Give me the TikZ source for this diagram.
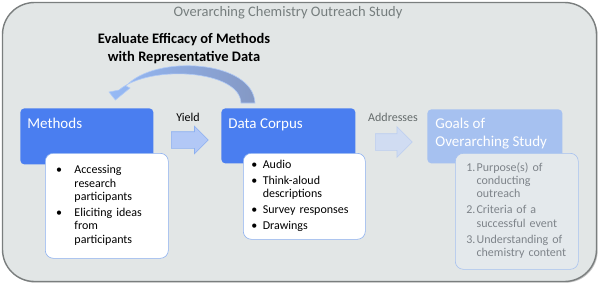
\documentclass[tikz,border=0pt]{standalone}
\usepackage{fontspec}
\setmainfont{Carlito}
\usetikzlibrary{shapes.arrows,shadows}

\begin{document}
\begin{tikzpicture}[x=1pt,y=-1pt,line width=0.75pt,
  studybox/.style={draw=studyline,fill=studybg,line width=1.4pt,rounded corners=32pt,inner sep=0pt,
    drop shadow={shadow xshift=1.2pt,shadow yshift=-1.2pt,opacity=0.45}},
  headbox/.style={fill=#1,rounded corners=4pt,anchor=north west,inner sep=0pt},
  headtext/.style={text=white,font=\fontsize{15}{17.5}\selectfont,inner sep=0pt,align=left,anchor=base west},
  listbox/.style={fill=#1,draw=listline,line width=0.6pt,rounded corners=8pt,anchor=north west,
    inner xsep=0pt,align=left,font=\fontsize{12}{13.3}\selectfont},
  blockarrow/.style={single arrow,anchor=tail,inner xsep=0pt,minimum height=37pt,line width=0.6pt}]
  \definecolor{studybg}{RGB}{226,230,230}
  \definecolor{studyline}{RGB}{122,126,126}
  \definecolor{titlegray}{RGB}{118,126,126}
  \definecolor{methodblue}{RGB}{74,126,240}
  \definecolor{goalblue}{RGB}{166,193,240}
  \definecolor{listline}{RGB}{140,176,240}
  \definecolor{goalfill}{RGB}{228,233,236}
  \definecolor{goaltext}{RGB}{126,132,138}
  \definecolor{yieldfill}{RGB}{178,200,246}
  \definecolor{addrfill}{RGB}{208,220,242}
  \definecolor{addrline}{RGB}{188,206,240}
  \definecolor{loophead}{RGB}{150,186,246}
  \definecolor{looptail}{RGB}{132,152,196}
  \definecolor{loopline}{RGB}{176,202,246}
  \useasboundingbox (0,0) rectangle (600,285);

  \node[studybox,minimum width=594pt,minimum height=279pt] (study) at (299.5,142) {};
  \node[font=\fontsize{14.5}{17}\selectfont,text=titlegray,anchor=base] (title) at (288,16)
    {Overarching Chemistry Outreach Study};

  % heading boxes
  \node[headbox=methodblue,minimum width=133pt,minimum height=56pt] (methods) at (20,108) {};
  \node[headbox=methodblue,minimum width=134pt,minimum height=55pt] (data) at (221,108) {};
  \node[headbox=goalblue,minimum width=135pt,minimum height=54pt] (goals) at (427,109) {};
  \node[headtext] (methodshead) at ([shift={(7,20)}]methods.north west) {Methods};
  \node[headtext] (datahead) at ([shift={(7,20)}]data.north west) {Data Corpus};
  \node[headtext] (goalshead) at ([shift={(8,37)}]goals.north west) {Goals of\\Overarching Study};

  % lists
  \node[listbox=white,text width=123pt,minimum height=105pt] (methodslist) at (45,153)
    {\begin{tabular}{@{\hspace{10.7pt}}c@{\hspace{12.5pt}}l@{}}
      \textbullet & Accessing\\ & research\\ & participants\\[2.7pt]
      \textbullet & Eliciting ideas\\ & from\\ & participants
    \end{tabular}};
  \node[listbox=white,text width=122pt,minimum height=86pt] (datalist) at (243,153)
    {\begin{tabular}{@{\hspace{8pt}}c@{\hspace{5.5pt}}l@{}}
      \textbullet & Audio\\[2.7pt]
      \textbullet & Think-aloud\\ & descriptions\\[2.7pt]
      \textbullet & Survey responses\\[2.7pt]
      \textbullet & Drawings
    \end{tabular}};
  \node[listbox=goalfill,draw=goalblue,text=goaltext,text width=123pt,minimum height=116pt]
    (goalslist) at (455,153)
    {\begin{tabular}{@{\hspace{11pt}}l@{\hspace{1.2pt}}l@{}}
      1. & Purpose(s) of\\ & conducting\\ & outreach\\[2.7pt]
      2. & Criteria of a\\ & successful event\\[2.7pt]
      3. & Understanding of\\ & chemistry content
    \end{tabular}};

  % block arrows between the boxes
  \node[blockarrow,fill=yieldfill,draw=listline,inner ysep=8pt,single arrow head extend=5.5pt]
    (yieldarrow) at (171,140) {};
  \node[font=\fontsize{12}{14}\selectfont] (yieldlabel) at (188,117.5) {Yield};
  \node[blockarrow,fill=addrfill,draw=addrline,inner ysep=8pt,single arrow head extend=7pt]
    (addrarrow) at (375,142) {};
  \node[font=\fontsize{12}{14}\selectfont,text=titlegray!85!black] (addrlabel) at (393,117)
    {Addresses};

  % curved feedback arrow
  \coordinate (looptail) at ([shift={(34,-5)}]data.north west);
  \coordinate (looptip) at ([shift={(28.5,-8)}]methods.north);
  \path[left color=loophead,right color=looptail,draw=loopline,line width=0.6pt]
    (looptail) .. controls (253,60) and (155,54) .. (126,86) -- (130,88) -- (looptip)
    -- (109,92) -- (119,90) .. controls (150,64) and (240,70) .. (241,103) -- cycle;
  \node[font=\bfseries\fontsize{14.5}{18}\selectfont,align=center] (evallabel) at (184,49)
    {Evaluate Efficacy of Methods\\with Representative Data};
\end{tikzpicture}
\end{document}
